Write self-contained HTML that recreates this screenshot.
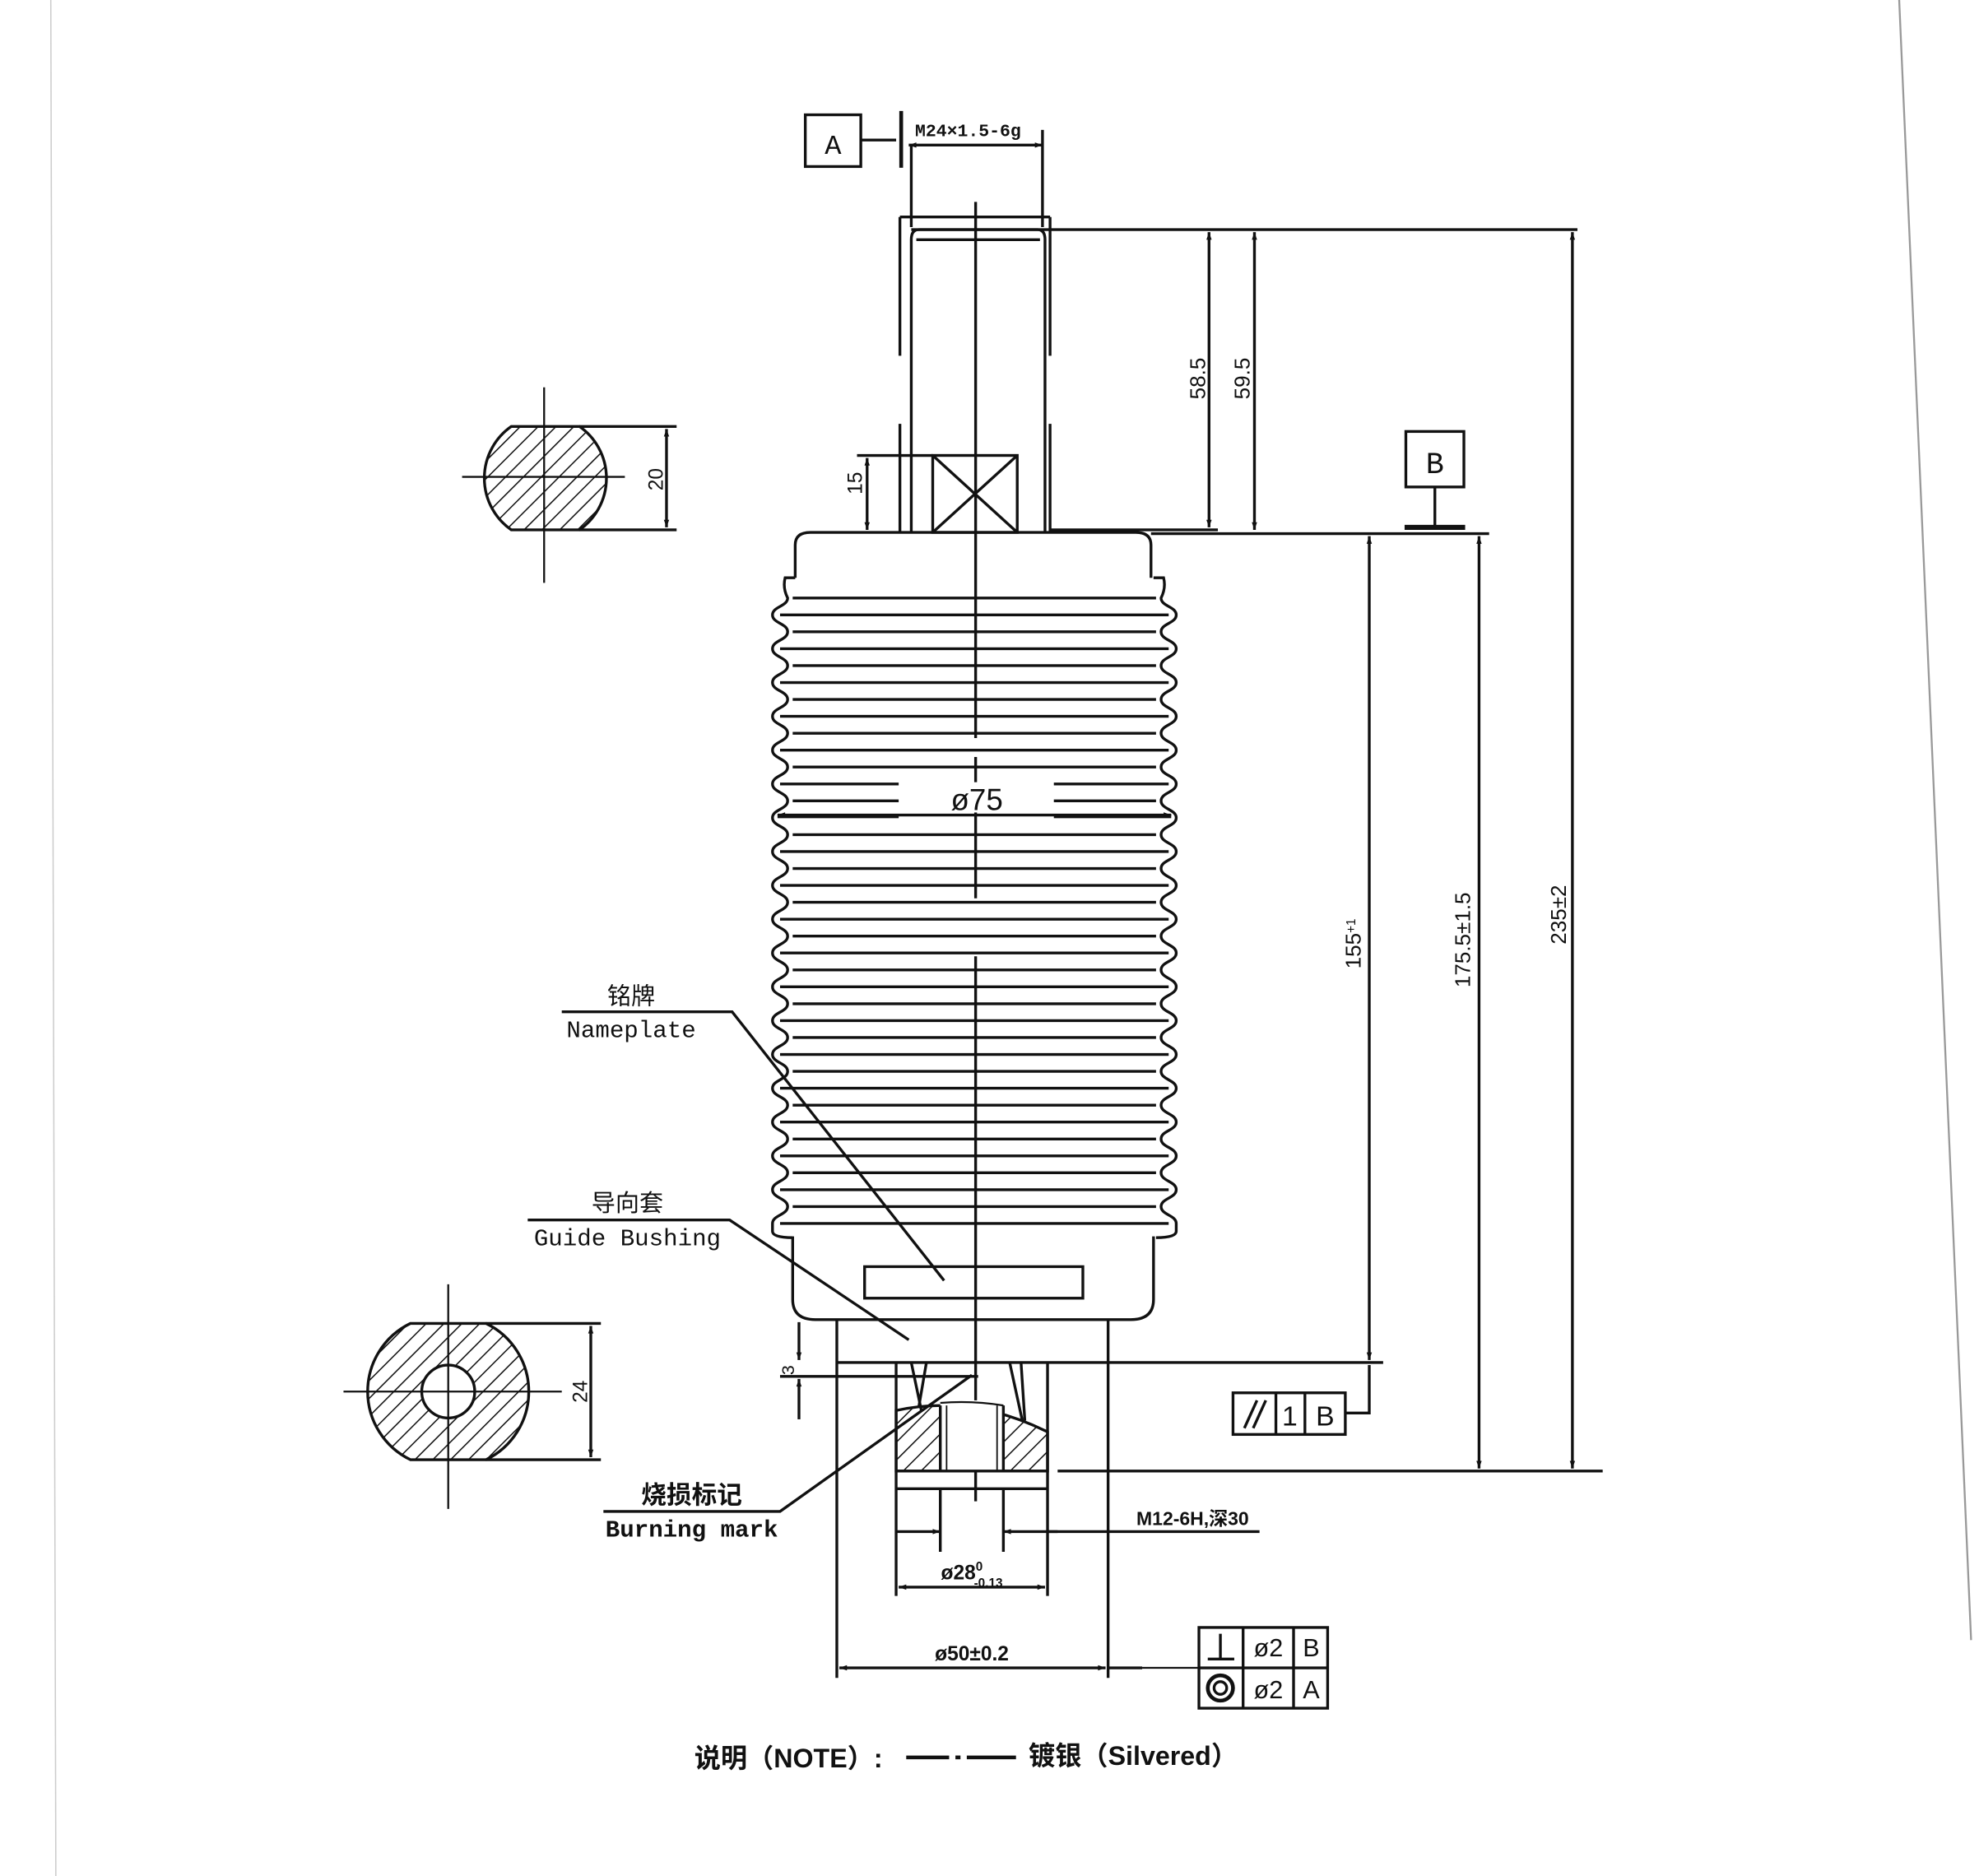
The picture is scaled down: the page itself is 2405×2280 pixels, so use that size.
<!DOCTYPE html>
<html><head><meta charset="utf-8"><style>
html,body{margin:0;padding:0;background:#fff}
svg{display:block}
text{font-family:"Liberation Sans","Noto Sans CJK SC",sans-serif;fill:#111}
.m{font-family:"Liberation Mono","Noto Sans CJK SC",monospace}
</style></head><body>
<svg width="2405" height="2280" viewBox="0 0 1568 1487" xmlns="http://www.w3.org/2000/svg" xmlns:xlink="http://www.w3.org/1999/xlink">
<defs>
<marker id="ar" viewBox="0 0 10 10" refX="10" refY="5" markerWidth="9" markerHeight="6" orient="auto-start-reverse" markerUnits="userSpaceOnUse"><path d="M0,1.5L10,5L0,8.5z" fill="#111"/></marker>
<pattern id="h" patternUnits="userSpaceOnUse" width="10" height="10" patternTransform="rotate(45)"><line x1="0" y1="0" x2="0" y2="10" stroke="#111" stroke-width="2"/></pattern>
</defs>
<rect width="1568" height="1487" fill="#fff"/>
<line x1="40" y1="0" x2="44" y2="1487" stroke="#ccc" stroke-width="1"/>
<line x1="1505" y1="0" x2="1562" y2="1300" stroke="#999" stroke-width="1.5"/>
<g stroke="#111" stroke-width="2.2" fill="none">
<!-- A datum -->
<rect x="638" y="91" width="44" height="41"/>
<line x1="682" y1="111" x2="710" y2="111"/>
<line x1="714" y1="88" x2="714" y2="133" stroke-width="3"/>
<line x1="720" y1="115" x2="826" y2="115" marker-start="url(#ar)" marker-end="url(#ar)"/>
<line x1="722" y1="115" x2="722" y2="180"/>
<line x1="826" y1="103" x2="826" y2="180"/>
<!-- stem -->
<line x1="713" y1="172" x2="832" y2="172"/>
<line x1="713" y1="172" x2="713" y2="282"/><line x1="713" y1="336" x2="713" y2="422"/>
<line x1="832" y1="172" x2="832" y2="282"/><line x1="832" y1="336" x2="832" y2="422"/>
<path d="M722,422V190q0-8 6-8H822q6,0 6,8V422"/>
<line x1="726" y1="190" x2="824" y2="190"/>
<line x1="722" y1="182" x2="1250" y2="182"/>
<line x1="773" y1="160" x2="773" y2="585"/>
<line x1="773" y1="600" x2="773" y2="712"/>
<line x1="773" y1="758" x2="773" y2="1190"/>
<!-- square X -->
<rect x="739" y="361" width="67" height="61"/>
<line x1="739" y1="361" x2="806" y2="422"/><line x1="806" y1="361" x2="739" y2="422"/>
<line x1="679" y1="361" x2="739" y2="361"/>
<line x1="687" y1="363" x2="687" y2="420" marker-start="url(#ar)" marker-end="url(#ar)"/>
<!-- dims right -->
<line x1="832" y1="420" x2="965" y2="420"/>
<line x1="958" y1="184" x2="958" y2="418" marker-start="url(#ar)" marker-end="url(#ar)"/>
<line x1="994" y1="184" x2="994" y2="420" marker-start="url(#ar)" marker-end="url(#ar)"/>
<line x1="912" y1="423" x2="1180" y2="423"/>
<rect x="1114" y="342" width="46" height="44"/>
<line x1="1137" y1="386" x2="1137" y2="418"/>
<line x1="1113" y1="418" x2="1161" y2="418" stroke-width="4"/>
<line x1="1085" y1="425" x2="1085" y2="1078" marker-start="url(#ar)" marker-end="url(#ar)"/>
<line x1="1172" y1="425" x2="1172" y2="1164" marker-start="url(#ar)" marker-end="url(#ar)"/>
<line x1="1246" y1="184" x2="1246" y2="1164" marker-start="url(#ar)" marker-end="url(#ar)"/>
<line x1="878" y1="1080" x2="1096" y2="1080"/>
<line x1="838" y1="1166" x2="1270" y2="1166"/>
<rect x="977" y="1104" width="89" height="33"/>
<line x1="1011" y1="1104" x2="1011" y2="1137"/><line x1="1034" y1="1104" x2="1034" y2="1137"/>
<line x1="986" y1="1132" x2="996" y2="1110"/><line x1="993" y1="1132" x2="1003" y2="1110"/>
<polyline points="1066,1120 1085,1120 1085,1082"/>
<!-- caps -->
<path d="M630,458V432q0-10 12-10H900q12,0 12,10V458"/>
<path d="M628,980V1030q0,16 18,16H896q18,0 18-16V980"/>
<rect x="685" y="1004" width="173" height="25"/>
<!-- bellows edges -->
<path id="edge" d="M630,458 L622,458 Q620,466 624,474 C624,480.7 612,480.7 612,487.4 S624,494.1 624,500.8 S612,507.5 612,514.2 S624,520.9 624,527.6 S612,534.3 612,541 S624,547.7 624,554.4 S612,561.1 612,567.8 S624,574.5 624,581.2 S612,587.9 612,594.6 S624,601.3 624,608 S612,614.7 612,621.4 S624,628.1 624,634.8 S612,641.5 612,648.2 S624,654.9 624,661.6 S612,668.3 612,675 S624,681.7 624,688.4 S612,695.1 612,701.8 S624,708.5 624,715.2 S612,721.9 612,728.6 S624,735.3 624,742 S612,748.7 612,755.4 S624,762.1 624,768.8 S612,775.5 612,782.2 S624,788.9 624,795.6 S612,802.3 612,809 S624,815.7 624,822.4 S612,829.1 612,835.8 S624,842.5 624,849.2 S612,855.9 612,862.6 S624,869.3 624,876 S612,882.7 612,889.4 S624,896.1 624,902.8 S612,909.5 612,916.2 S624,922.9 624,929.6 S612,936.3 612,943 S624,949.7 624,956.4 S612,963.1 612,969.8 L612,976 Q612,981 628,981"/>
<use href="#edge" xlink:href="#edge" transform="translate(1544,0) scale(-1,1)"/>
<!-- ribs: short -->
<g>
<line x1="628" y1="474" x2="916" y2="474"/>
<line x1="628" y1="500.8" x2="916" y2="500.8"/>
<line x1="628" y1="527.6" x2="916" y2="527.6"/>
<line x1="628" y1="554.4" x2="916" y2="554.4"/>
<line x1="628" y1="581.2" x2="916" y2="581.2"/>
<line x1="628" y1="608" x2="916" y2="608"/>
<line x1="628" y1="634.8" x2="712" y2="634.8"/><line x1="835" y1="634.8" x2="916" y2="634.8"/>
<line x1="628" y1="661.6" x2="916" y2="661.6"/>
<line x1="628" y1="688.4" x2="916" y2="688.4"/>
<line x1="628" y1="715.2" x2="916" y2="715.2"/>
<line x1="628" y1="742" x2="916" y2="742"/>
<line x1="628" y1="768.8" x2="916" y2="768.8"/>
<line x1="628" y1="795.6" x2="916" y2="795.6"/>
<line x1="628" y1="822.4" x2="916" y2="822.4"/>
<line x1="628" y1="849.2" x2="916" y2="849.2"/>
<line x1="628" y1="876" x2="916" y2="876"/>
<line x1="628" y1="902.8" x2="916" y2="902.8"/>
<line x1="628" y1="929.6" x2="916" y2="929.6"/>
<line x1="628" y1="956.4" x2="916" y2="956.4"/>
</g>
<!-- ribs: long -->
<g>
<line x1="618" y1="487.4" x2="926" y2="487.4"/>
<line x1="618" y1="514.2" x2="926" y2="514.2"/>
<line x1="618" y1="541" x2="926" y2="541"/>
<line x1="618" y1="567.8" x2="926" y2="567.8"/>
<line x1="618" y1="594.6" x2="926" y2="594.6"/>
<line x1="618" y1="621.4" x2="712" y2="621.4"/><line x1="835" y1="621.4" x2="926" y2="621.4"/>
<line x1="618" y1="675" x2="926" y2="675"/>
<line x1="618" y1="701.8" x2="926" y2="701.8"/>
<line x1="618" y1="728.6" x2="926" y2="728.6"/>
<line x1="618" y1="755.4" x2="926" y2="755.4"/>
<line x1="618" y1="782.2" x2="926" y2="782.2"/>
<line x1="618" y1="809" x2="926" y2="809"/>
<line x1="618" y1="835.8" x2="926" y2="835.8"/>
<line x1="618" y1="862.6" x2="926" y2="862.6"/>
<line x1="618" y1="889.4" x2="926" y2="889.4"/>
<line x1="618" y1="916.2" x2="926" y2="916.2"/>
<line x1="618" y1="943" x2="926" y2="943"/>
<line x1="618" y1="969.8" x2="926" y2="969.8"/>
</g>
<line x1="616" y1="646" x2="928" y2="646" marker-start="url(#ar)" marker-end="url(#ar)"/>
<line x1="616" y1="647" x2="712" y2="647" stroke-width="3"/><line x1="835" y1="647" x2="928" y2="647" stroke-width="3"/>
<!-- lower -->
<line x1="663" y1="1046" x2="663" y2="1330"/>
<line x1="878" y1="1046" x2="878" y2="1330"/>
<line x1="663" y1="1080" x2="878" y2="1080"/>
<line x1="710" y1="1080" x2="710" y2="1265"/>
<line x1="830" y1="1080" x2="830" y2="1265"/>
<line x1="722" y1="1080" x2="730" y2="1118"/><line x1="734" y1="1080" x2="728" y2="1115"/>
<line x1="800" y1="1080" x2="810" y2="1126"/><line x1="809" y1="1080" x2="812" y2="1126"/>
<path d="M710,1118Q770,1105 830,1135V1166H710Z" fill="url(#h)"/>
<rect x="745" y="1110" width="50" height="56" fill="#fff" stroke="none"/>
<path d="M745,1112Q770,1110 795,1114" stroke-width="1.5"/>
<line x1="745" y1="1114" x2="745" y2="1166"/><line x1="795" y1="1114" x2="795" y2="1166"/>
<line x1="750" y1="1114" x2="750" y2="1166" stroke-width="1.2"/><line x1="790" y1="1114" x2="790" y2="1166" stroke-width="1.2"/>
<line x1="710" y1="1166" x2="830" y2="1166"/>
<line x1="710" y1="1180" x2="830" y2="1180"/>
<line x1="618" y1="1091" x2="775" y2="1091"/>
<line x1="633" y1="1048" x2="633" y2="1078" marker-end="url(#ar)"/>
<line x1="633" y1="1125" x2="633" y2="1093" marker-end="url(#ar)"/>
<line x1="745" y1="1180" x2="745" y2="1230"/><line x1="795" y1="1180" x2="795" y2="1230"/>
<line x1="710" y1="1214" x2="745" y2="1214" marker-end="url(#ar)"/>
<line x1="838" y1="1214" x2="795" y2="1214" marker-end="url(#ar)"/>
<line x1="830" y1="1214" x2="998" y2="1214"/>
<line x1="712" y1="1258" x2="828" y2="1258" marker-start="url(#ar)" marker-end="url(#ar)"/>
<line x1="665" y1="1322" x2="876" y2="1322" marker-start="url(#ar)" marker-end="url(#ar)"/>
<line x1="878" y1="1322" x2="905" y2="1322"/>
<line x1="905" y1="1322" x2="950" y2="1322" stroke-width="1.5"/>
<!-- tol frame -->
<rect x="950" y="1290" width="102" height="64"/>
<line x1="950" y1="1322" x2="1052" y2="1322"/>
<line x1="985" y1="1290" x2="985" y2="1354"/><line x1="1025" y1="1290" x2="1025" y2="1354"/>
<line x1="967" y1="1295" x2="967" y2="1315"/><line x1="957" y1="1315" x2="978" y2="1315"/>
<circle cx="967" cy="1338" r="10" stroke-width="3"/><circle cx="967" cy="1338" r="5"/>
<!-- leaders -->
<polyline points="445,802 580,802 748,1015"/>
<polyline points="418,967 578,967 720,1062"/>
<polyline points="478,1198 618,1198 770,1090"/>
<!-- section top-left -->
<path d="M405,338H459A50,50 0 0 1 459,420H405A50,50 0 0 1 405,338Z" fill="url(#h)"/>
<line x1="431" y1="307" x2="431" y2="462" stroke-width="1.5"/>
<line x1="366" y1="378" x2="495" y2="378" stroke-width="1.5"/>
<line x1="459" y1="338" x2="536" y2="338"/><line x1="459" y1="420" x2="536" y2="420"/>
<line x1="528" y1="340" x2="528" y2="418" marker-start="url(#ar)" marker-end="url(#ar)"/>
<!-- section lower-left -->
<path d="M325,1049H385A60,60 0 0 1 385,1157H325A60,60 0 0 1 325,1049Z" fill="url(#h)"/>
<circle cx="355" cy="1103" r="21" fill="#fff"/>
<line x1="355" y1="1018" x2="355" y2="1196" stroke-width="1.5"/>
<line x1="272" y1="1103" x2="445" y2="1103" stroke-width="1.5"/>
<line x1="385" y1="1049" x2="476" y2="1049"/><line x1="385" y1="1157" x2="476" y2="1157"/>
<line x1="468" y1="1051" x2="468" y2="1155" marker-start="url(#ar)" marker-end="url(#ar)"/>
<!-- note dash -->
<line x1="718" y1="1393" x2="752" y2="1393" stroke-width="3"/>
<line x1="757" y1="1393" x2="761" y2="1393" stroke-width="3"/>
<line x1="766" y1="1393" x2="805" y2="1393" stroke-width="3"/>
</g>
<g font-size="16">
<rect x="740" y="620" width="70" height="24" fill="#fff"/>
<text x="660" y="122" font-size="22" text-anchor="middle" class="m">A</text>
<text x="1137" y="375" font-size="24" text-anchor="middle" class="m">B</text>
<text x="725" y="108" font-size="14" font-weight="bold" class="m">M24×1.5-6g</text>
<text transform="translate(955,300) rotate(-90)" text-anchor="middle" font-size="17">58.5</text>
<text transform="translate(990,300) rotate(-90)" text-anchor="middle" font-size="17">59.5</text>
<text transform="translate(683,383) rotate(-90)" text-anchor="middle" font-size="16">15</text>
<text transform="translate(525,380) rotate(-90)" text-anchor="middle" font-size="16">20</text>
<text transform="translate(465,1103) rotate(-90)" text-anchor="middle" font-size="16">24</text>
<text transform="translate(1078,748) rotate(-90)" text-anchor="middle" font-size="17">155<tspan font-size="10" dy="-4">+1</tspan></text>
<text transform="translate(1165,745) rotate(-90)" text-anchor="middle" font-size="17">175.5±1.5</text>
<text transform="translate(1241,725) rotate(-90)" text-anchor="middle" font-size="17">235±2</text>
<text x="774" y="642" text-anchor="middle" font-size="24">ø75</text>
<text x="1022" y="1130" font-size="22" text-anchor="middle">1</text>
<text x="1050" y="1130" font-size="22" text-anchor="middle">B</text>
<text x="1005" y="1313" font-size="20" text-anchor="middle">ø2</text>
<text x="1039" y="1313" font-size="20" text-anchor="middle">B</text>
<text x="1005" y="1346" font-size="20" text-anchor="middle">ø2</text>
<text x="1039" y="1346" font-size="20" text-anchor="middle">A</text>
<text transform="translate(629,1086) rotate(-90)" text-anchor="middle" font-size="14">3</text>
<text x="500" y="796" font-size="19" text-anchor="middle">铭牌</text>
<text x="500" y="822" font-size="19" text-anchor="middle" class="m">Nameplate</text>
<text x="497" y="960" font-size="19" text-anchor="middle" fill="#444">导向套</text>
<text x="497" y="987" font-size="19" text-anchor="middle" class="m">Guide Bushing</text>
<text x="548" y="1192" font-size="20" text-anchor="middle" font-weight="bold">烧损标记</text>
<text x="548" y="1218" font-size="19" text-anchor="middle" class="m" font-weight="bold">Burning mark</text>
<text x="945" y="1209" font-size="15" text-anchor="middle" font-weight="bold">M12-6H,深30</text>
<text x="770" y="1252" font-size="16" text-anchor="middle" font-weight="bold">ø28<tspan font-size="10" dy="-7">0</tspan><tspan font-size="10" dx="-7" dy="13">-0.13</tspan></text>
<text x="770" y="1316" font-size="16" text-anchor="middle" font-weight="bold">ø50±0.2</text>
<text x="550" y="1401" font-size="21" font-weight="bold">说明（NOTE）:</text>
<text x="815" y="1399" font-size="21" font-weight="bold">镀银（Silvered）</text>
</g>
</svg>
</body></html>
